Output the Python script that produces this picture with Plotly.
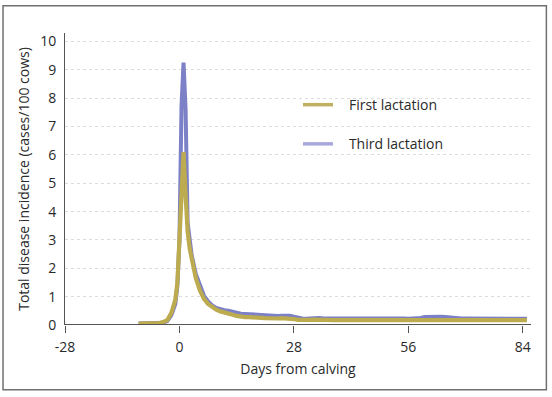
import plotly.graph_objects as go

# day grid: daily, with half-day readings around the calving peak
days = ([-10, -9, -8, -7, -6, -5, -4, -3, -2]
        + [-1, -0.5, 0, 0.5, 1, 1.5, 2, 2.5, 3]
        + list(range(4, 86)))

first_lactation = [
    0.05, 0.05, 0.05, 0.05, 0.06, 0.07, 0.10, 0.17, 0.42,          # -10..-2
    0.90, 1.50, 3.00, 5.00, 6.10, 4.60, 3.30, 2.70, 2.30,          # -1..3 (half days)
    1.65, 1.22, 0.92, 0.74, 0.62, 0.54,                            # 4..9
    0.48, 0.43, 0.40, 0.36, 0.32, 0.29, 0.28, 0.28, 0.28, 0.27,    # 10..19
    0.25, 0.24, 0.23, 0.23, 0.23, 0.24, 0.24, 0.23, 0.21, 0.18,    # 20..29
    0.17, 0.17, 0.18, 0.19, 0.18, 0.18, 0.17, 0.17, 0.17, 0.17,    # 30..39
    0.17, 0.17, 0.18, 0.18, 0.19, 0.19, 0.18, 0.18, 0.17, 0.17,    # 40..49
    0.17, 0.17, 0.17, 0.17, 0.17, 0.17, 0.17, 0.17, 0.17, 0.18,    # 50..59
    0.20, 0.20, 0.20, 0.20, 0.20, 0.20, 0.19, 0.18, 0.17, 0.17,    # 60..69
    0.17, 0.17, 0.17, 0.17, 0.17, 0.17, 0.17, 0.17, 0.17, 0.17,    # 70..79
    0.17, 0.17, 0.17, 0.17, 0.17, 0.17,                            # 80..85
]

third_lactation = [
    0.05, 0.05, 0.05, 0.05, 0.05, 0.06, 0.08, 0.14, 0.34,          # -10..-2
    0.75, 1.40, 3.00, 7.70, 9.26, 7.60, 3.60, 2.90, 2.45,          # -1..3 (half days)
    1.80, 1.36, 1.03, 0.83, 0.69, 0.60,                            # 4..9
    0.55, 0.52, 0.50, 0.46, 0.42, 0.40, 0.39, 0.38, 0.39, 0.38,    # 10..19
    0.35, 0.33, 0.32, 0.32, 0.32, 0.33, 0.34, 0.33, 0.29, 0.25,    # 20..29
    0.23, 0.22, 0.24, 0.25, 0.25, 0.24, 0.24, 0.23, 0.23, 0.23,    # 30..39
    0.23, 0.23, 0.24, 0.25, 0.26, 0.26, 0.25, 0.24, 0.23, 0.23,    # 40..49
    0.23, 0.23, 0.23, 0.23, 0.23, 0.23, 0.22, 0.22, 0.22, 0.25,    # 50..59
    0.28, 0.29, 0.29, 0.30, 0.29, 0.28, 0.26, 0.25, 0.24, 0.23,    # 60..69
    0.23, 0.23, 0.22, 0.22, 0.22, 0.22, 0.22, 0.22, 0.23, 0.23,    # 70..79
    0.23, 0.22, 0.22, 0.22, 0.22, 0.22,                            # 80..85
]

series_names = ["First lactation", "Third lactation"]
x_ticks = [-28, 0, 28, 56, 84]
y_ticks = list(range(0, 11))

OLIVE = "#BCAB4F"
PURPLE = "#7C80C6"
OLIVE_LEG = "#BFB062"
PURPLE_LEG = "#A8A8DC"
FONT = "Open Sans"
TXT = "#2A2A2A"

fig = go.Figure()

# plotted lines (third drawn first so first lactation sits on top)
fig.add_trace(go.Scatter(x=days, y=third_lactation, mode="lines",
                         line=dict(color=PURPLE, width=4.0),
                         showlegend=False, hoverinfo="skip"))
fig.add_trace(go.Scatter(x=days, y=first_lactation, mode="lines",
                         line=dict(color=OLIVE, width=4.2),
                         showlegend=False, hoverinfo="skip"))

# legend entries
for name, col, grp in [(series_names[0], OLIVE_LEG, "a"), (series_names[1], PURPLE_LEG, "b")]:
    fig.add_trace(go.Scatter(x=[None], y=[None], mode="lines",
                             name="\u00a0\u00a0\u00a0" + name,
                             legendgroup=grp,
                             line=dict(color=col, width=3.5)))

fig.update_layout(
    width=552, height=397,
    margin=dict(l=65, r=21, t=33, b=72),
    paper_bgcolor="white", plot_bgcolor="white",
    font=dict(family=FONT, size=14, color=TXT),
    showlegend=True,
    legend=dict(x=0.5, y=0.808, xanchor="left", yanchor="top",
                bgcolor="rgba(0,0,0,0)", font=dict(family=FONT, size=14, color=TXT),
                tracegroupgap=18, itemwidth=30),
    xaxis=dict(range=[-28, 86], tickvals=x_ticks, ticktext=[str(v) for v in x_ticks],
               showgrid=False, zeroline=False, showline=False,
               ticks="outside", ticklen=7, tickwidth=1, tickcolor="#555555",
               ticklabelstandoff=2,
               tickfont=dict(family=FONT, size=14, color=TXT),
               title=dict(text="Days from calving", standoff=9,
                          font=dict(family=FONT, size=14, color=TXT))),
    yaxis=dict(range=[0, 10.3], tickvals=y_ticks, ticktext=[str(v) for v in y_ticks],
               showgrid=True, gridcolor="#DDDDDD", griddash="dot", gridwidth=1,
               zeroline=False, showline=True, linecolor="#555555", linewidth=1,
               ticks="", ticklabelstandoff=5,
               tickfont=dict(family=FONT, size=14, color=TXT),
               title=dict(text="Total disease incidence (cases/100 cows)", standoff=7,
                          font=dict(family=FONT, size=14, color=TXT))),
)

# x-axis baseline at y = 0
fig.add_shape(type="line", xref="paper", yref="y", x0=0, x1=1, y0=0, y1=0,
              line=dict(color="#555555", width=2), layer="above")

# outer frame around the whole graphic
fig.add_shape(type="rect", xref="paper", yref="paper",
              x0=-0.133, x1=1.033, y0=-0.222, y1=1.093,
              line=dict(color="#707070", width=1.5), fillcolor="rgba(0,0,0,0)", layer="below")

fig.write_html("out.html", config={"displayModeBar": False},
               post_script="document.body.style.margin='0';")
